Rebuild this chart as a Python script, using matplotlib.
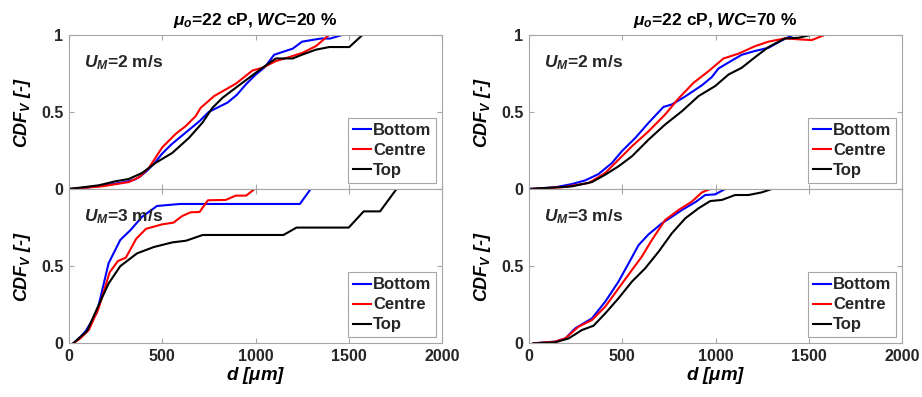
import matplotlib
matplotlib.use("Agg")
import matplotlib.pyplot as plt

plt.rcParams['font.family'] = ['Liberation Sans', 'DejaVu Sans']
plt.rcParams['mathtext.fontset'] = 'custom'
plt.rcParams['mathtext.rm'] = 'Liberation Sans:bold'
plt.rcParams['mathtext.it'] = 'Liberation Sans:bold:italic'
plt.rcParams['mathtext.bf'] = 'Liberation Sans:bold'

# ---------------- data ----------------
series_names = ["Bottom", "Centre", "Top"]
series_colors = ["#0000ff", "#ff0000", "#000000"]

# WC = 20 %, U_M = 2 m/s
wc20_u2_bottom_x = [0, 100, 200, 300, 350, 380, 420, 460, 500, 550, 600, 650, 700, 750, 800, 850, 900, 950, 1000, 1050, 1100, 1150, 1200, 1250, 1300, 1350, 1400, 1470]
wc20_u2_bottom_y = [0, 0.01, 0.025, 0.045, 0.06, 0.08, 0.12, 0.17, 0.23, 0.29, 0.34, 0.39, 0.44, 0.5, 0.53, 0.56, 0.61, 0.68, 0.74, 0.79, 0.87, 0.89, 0.91, 0.955, 0.965, 0.975, 0.975, 1.0]
wc20_u2_centre_x = [0, 177, 321, 375, 428, 500, 572, 625, 679, 706, 778, 840, 894, 984, 1038, 1109, 1181, 1253, 1324, 1396]
wc20_u2_centre_y = [0, 0.017, 0.045, 0.076, 0.136, 0.27, 0.357, 0.407, 0.472, 0.526, 0.602, 0.645, 0.682, 0.768, 0.786, 0.829, 0.855, 0.883, 0.926, 1.0]
wc20_u2_top_x = [0, 160, 249, 321, 392, 464, 554, 643, 715, 769, 823, 894, 966, 1038, 1109, 1199, 1253, 1324, 1396, 1503, 1575]
wc20_u2_top_y = [0, 0.024, 0.05, 0.065, 0.104, 0.169, 0.234, 0.331, 0.429, 0.526, 0.591, 0.656, 0.721, 0.786, 0.846, 0.846, 0.872, 0.903, 0.92, 0.92, 1.0]

# WC = 20 %, U_M = 3 m/s
wc20_u3_bottom_x = [23, 60, 90, 150, 212, 275, 330, 392, 472, 595, 1238, 1296]
wc20_u3_bottom_y = [0, 0.04, 0.08, 0.2, 0.518, 0.67, 0.734, 0.82, 0.89, 0.903, 0.903, 1.0]
wc20_u3_centre_x = [23, 61, 106, 159, 218, 262, 305, 360, 413, 500, 560, 607, 652, 700, 745, 840, 894, 950, 995]
wc20_u3_centre_y = [0, 0.032, 0.086, 0.227, 0.46, 0.533, 0.555, 0.677, 0.742, 0.771, 0.782, 0.825, 0.849, 0.851, 0.927, 0.929, 0.957, 0.957, 1.0]
wc20_u3_top_x = [23, 97, 159, 213, 275, 365, 455, 554, 628, 717, 1150, 1220, 1500, 1580, 1668, 1756]
wc20_u3_top_y = [0, 0.08, 0.248, 0.389, 0.5, 0.583, 0.624, 0.654, 0.665, 0.702, 0.702, 0.75, 0.75, 0.855, 0.855, 1.0]

# WC = 70 %, U_M = 2 m/s
wc70_u2_bottom_x = [0, 141, 230, 302, 373, 445, 498, 570, 641, 721, 766, 838, 927, 980, 1016, 1070, 1141, 1213, 1284, 1355, 1418]
wc70_u2_bottom_y = [0, 0.011, 0.032, 0.056, 0.097, 0.169, 0.245, 0.331, 0.429, 0.532, 0.548, 0.6, 0.672, 0.725, 0.781, 0.82, 0.87, 0.895, 0.915, 0.963, 1.0]
wc70_u2_centre_x = [0, 177, 320, 409, 480, 552, 641, 730, 802, 882, 963, 1043, 1123, 1213, 1284, 1373, 1445, 1516, 1588]
wc70_u2_centre_y = [0, 0.011, 0.039, 0.104, 0.19, 0.277, 0.374, 0.483, 0.587, 0.688, 0.764, 0.846, 0.877, 0.926, 0.955, 0.976, 0.97, 0.965, 1.0]
wc70_u2_top_x = [0, 230, 338, 409, 480, 552, 641, 730, 820, 909, 998, 1070, 1141, 1213, 1284, 1373, 1445, 1516]
wc70_u2_top_y = [0, 0.017, 0.045, 0.093, 0.147, 0.212, 0.32, 0.418, 0.504, 0.602, 0.667, 0.742, 0.786, 0.855, 0.92, 0.976, 0.98, 1.0]

# WC = 70 %, U_M = 3 m/s
wc70_u3_bottom_x = [25, 141, 195, 248, 338, 409, 480, 534, 588, 641, 713, 766, 820, 891, 945, 998, 1052]
wc70_u3_bottom_y = [0, 0.011, 0.032, 0.097, 0.162, 0.27, 0.4, 0.518, 0.637, 0.706, 0.778, 0.82, 0.864, 0.914, 0.961, 0.965, 1.0]
wc70_u3_centre_x = [25, 141, 195, 266, 338, 409, 480, 552, 605, 659, 730, 802, 873, 927, 972]
wc70_u3_centre_y = [0, 0.011, 0.032, 0.108, 0.151, 0.238, 0.356, 0.475, 0.562, 0.67, 0.799, 0.864, 0.918, 0.978, 1.0]
wc70_u3_top_x = [25, 141, 213, 284, 346, 409, 480, 552, 623, 695, 766, 838, 909, 972, 1034, 1105, 1177, 1248, 1302]
wc70_u3_top_y = [0, 0.006, 0.032, 0.086, 0.114, 0.194, 0.292, 0.4, 0.486, 0.594, 0.713, 0.81, 0.875, 0.922, 0.929, 0.961, 0.961, 0.978, 1.0]

column_titles = [r'$\mu_o$=22 cP, $WC$=20 %', r'$\mu_o$=22 cP, $WC$=70 %']
row_labels = [r'$U_M$=2 m/s', r'$U_M$=3 m/s']
x_ticks = [0, 500, 1000, 1500, 2000]
y_ticks = [0, 0.5, 1]
x_label = r'd [$\mu$m]'
y_label = r'$CDF_V$ [-]'

panels = [
    [[(wc20_u2_bottom_x, wc20_u2_bottom_y), (wc20_u2_centre_x, wc20_u2_centre_y), (wc20_u2_top_x, wc20_u2_top_y)],
     [(wc70_u2_bottom_x, wc70_u2_bottom_y), (wc70_u2_centre_x, wc70_u2_centre_y), (wc70_u2_top_x, wc70_u2_top_y)]],
    [[(wc20_u3_bottom_x, wc20_u3_bottom_y), (wc20_u3_centre_x, wc20_u3_centre_y), (wc20_u3_top_x, wc20_u3_top_y)],
     [(wc70_u3_bottom_x, wc70_u3_bottom_y), (wc70_u3_centre_x, wc70_u3_centre_y), (wc70_u3_top_x, wc70_u3_top_y)]],
]

# ---------------- figure ----------------
W, H = 922, 397
fig = plt.figure(figsize=(W / 100, H / 100), dpi=100)

lefts = [69 / W, 529 / W]
width = 373 / W
bottoms = [(H - 189) / H, (H - 343.3) / H]
height = 154.3 / H
spine_col = '#a6a6a6'

for r in range(2):
    for c in range(2):
        ax = fig.add_axes([lefts[c], bottoms[r], width, height])
        for (xs, ys), name, col in zip(panels[r][c], series_names, series_colors):
            ax.plot(xs, ys, color=col, lw=1.5, label=name)
        ax.set_xlim(0, 2000)
        ax.set_ylim(0, 1)
        ax.set_xticks(x_ticks)
        ax.set_yticks(y_ticks)
        if r == 0:
            ax.set_yticklabels(['0', '0.5', '1'])
            ax.set_xticklabels([])
            ax.set_title(column_titles[c], fontsize=12.5, fontweight='bold', pad=7)
        else:
            ax.set_yticklabels(['0', '0.5', ''])
            ax.set_xticklabels([str(t) for t in x_ticks])
            ax.set_xlabel(x_label, fontsize=13.5, fontweight='bold', fontstyle='italic', labelpad=1)
        ax.set_ylabel(y_label, fontsize=13, fontweight='bold', fontstyle='italic', labelpad=6)
        ax.tick_params(direction='in', top=True, right=True, length=3.5, width=0.8,
                       colors=spine_col, labelcolor='#262626', labelsize=11.5, pad=4)
        for lab in ax.get_xticklabels() + ax.get_yticklabels():
            lab.set_fontweight('bold')
        for s in ax.spines.values():
            s.set_color(spine_col)
            s.set_linewidth(0.8)
        ax.text(0.04, 0.82, row_labels[r], transform=ax.transAxes, fontsize=12.5,
                fontweight='bold', ha='left', va='center', color='#262626')
        leg = ax.legend(loc='lower right', fontsize=12, frameon=True, fancybox=False,
                        edgecolor=spine_col, framealpha=1, handlelength=1.1,
                        handletextpad=0.1, borderpad=0.3, labelspacing=0.3,
                        borderaxespad=0.35)
        leg.get_frame().set_linewidth(0.8)
        for t in leg.get_texts():
            t.set_fontweight('bold')
            t.set_color('#262626')

fig.savefig('out.png', dpi=100)
